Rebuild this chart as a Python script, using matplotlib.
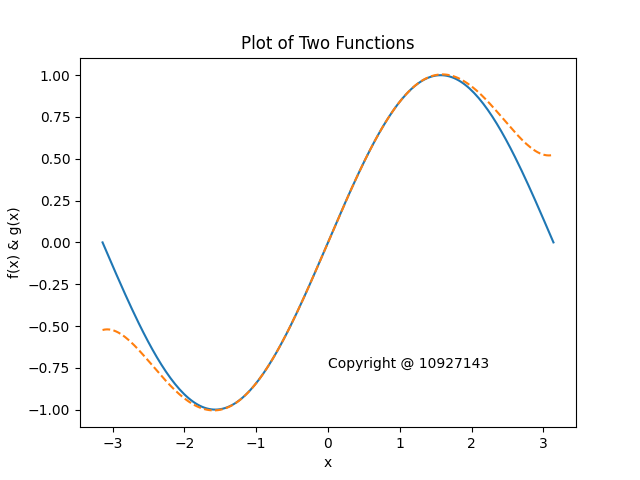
import numpy as np
import matplotlib
matplotlib.use("Agg")
from matplotlib import pyplot as plt

# f(x) = sin(x), g(x) = its 5th order Taylor polynomial
x = np.linspace(-np.pi, np.pi, 200)
taylor_coefs = [0, 1, 0, -1/6, 0, 1/120]  # constant term first
f = np.sin(x)
g = np.polynomial.polynomial.polyval(x, taylor_coefs)

fig, ax = plt.subplots(figsize=(6.4, 4.8), dpi=100)
ax.plot(x, f)
ax.plot(x, g, "--")
ax.set_title("Plot of Two Functions")
ax.set_xlabel("x")
ax.set_ylabel("f(x) & g(x)")
ax.text(0, -0.75, "Copyright @ 10927143")
fig.savefig("out.png")
